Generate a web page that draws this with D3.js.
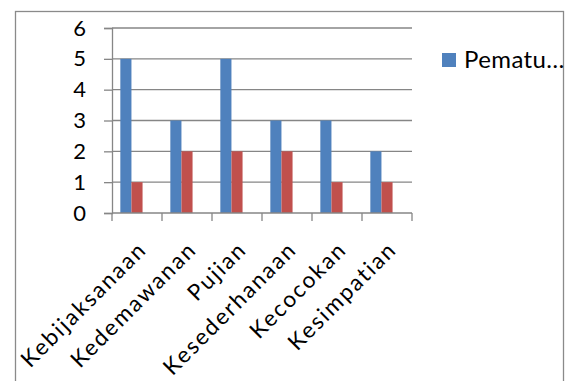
<!DOCTYPE html>
<html>
<head>
<meta charset="utf-8">
<script src="https://cdn.jsdelivr.net/npm/d3@7"></script>
<style>
  html, body { margin: 0; padding: 0; background: #fff; }
  svg { display: block; font-family: Lato, "Noto Sans", sans-serif; }
</style>
</head>
<body>
<div id="chart"></div>
<script>
// categories and series
const categories = ["Kebijaksanaan", "Kedemawanan", "Pujian", "Kesederhanaan", "Kecocokan", "Kesimpatian"];
const seriesNames = ["Pematuhan", "Pelanggaran", "Seri 3"];
const pematuhan   = [5, 3, 5, 3, 3, 2];
const pelanggaran = [1, 2, 2, 2, 1, 1];
const seri3       = [0, 0, 0, 0, 0, 0];   // empty third series (takes a slot in each cluster)
const yTicks = [0, 1, 2, 3, 4, 5, 6];
const legendLabel = "Pematu…";            // only entry that fits, truncated

const seriesValues = [pematuhan, pelanggaran, seri3];
const colors = ["#4F81BD", "#C0504D", "#9BBB59"];

const W = 565, H = 381;
const plot = { left: 112, right: 412, top: 28, bottom: 213 };
const grid = "#868686";

const svg = d3.select("#chart").append("svg").attr("width", W).attr("height", H);

// outer chart frame (bottom edge falls outside the picture)
svg.append("rect")
  .attr("x", 15.5).attr("y", 11.5).attr("width", 548).attr("height", 420)
  .attr("fill", "none").attr("stroke", "#8a8a8a").attr("stroke-width", 1.3);

const x0 = d3.scaleBand().domain(categories).range([plot.left, plot.right])
  .paddingInner(1/3).paddingOuter(1/6);
const x1 = d3.scaleBand().domain(seriesNames).range([0, x0.bandwidth()]);
const y = d3.scaleLinear().domain([0, 6]).range([plot.bottom, plot.top]);

// horizontal gridlines
svg.append("g").selectAll("line").data(yTicks.slice(1)).join("line")
  .attr("x1", plot.left).attr("x2", plot.right)
  .attr("y1", d => y(d)).attr("y2", d => y(d))
  .attr("stroke", grid).attr("stroke-width", 1.3);

// y axis
const yAxis = svg.append("g").attr("transform", `translate(${plot.left},0)`)
  .call(d3.axisLeft(y).tickValues(yTicks).tickFormat(d3.format("d")).tickSize(8).tickPadding(18));
yAxis.select(".domain").attr("stroke", grid).attr("stroke-width", 1.3);
yAxis.selectAll(".tick line").attr("stroke", grid).attr("stroke-width", 1.3);
yAxis.selectAll("text").attr("font-size", 22).attr("fill", "#000").attr("font-family", "Lato");

// bars
const groups = svg.append("g").selectAll("g").data(categories).join("g")
  .attr("transform", d => `translate(${x0(d)},0)`);
groups.selectAll("rect")
  .data((c, i) => seriesNames.map((s, k) => ({ s, k, v: seriesValues[k][i] })))
  .join("rect")
  .attr("x", d => x1(d.s))
  .attr("width", x1.bandwidth())
  .attr("y", d => y(d.v))
  .attr("height", d => y(0) - y(d.v))
  .attr("fill", d => colors[d.k]);

// x axis line + boundary ticks
const step = x0.step();
const bounds = d3.range(categories.length + 1).map(i => plot.left + i * step);
svg.append("line")
  .attr("x1", plot.left).attr("x2", plot.right).attr("y1", y(0)).attr("y2", y(0))
  .attr("stroke", grid).attr("stroke-width", 1.3);
svg.append("g").selectAll("line").data(bounds).join("line")
  .attr("x1", d => d).attr("x2", d => d).attr("y1", y(0)).attr("y2", y(0) + 8)
  .attr("stroke", grid).attr("stroke-width", 1.3);

// rotated category labels
svg.append("g").selectAll("text").data(categories).join("text")
  .attr("transform", d => `translate(${x0(d) + x0.bandwidth() / 2 + 11},${y(0) + 38}) rotate(-45)`)
  .attr("text-anchor", "end")
  .attr("font-size", 22.5)
  .attr("letter-spacing", 2)
  .attr("fill", "#000")
  .text(d => d);

// legend
const lg = svg.append("g").attr("transform", "translate(442,53)");
lg.append("rect").attr("width", 14).attr("height", 14).attr("fill", colors[0]);
lg.append("text").attr("x", 22).attr("y", 15).attr("font-size", 24).attr("letter-spacing", 0.4)
  .attr("fill", "#000").text(legendLabel);
</script>
</body>
</html>
